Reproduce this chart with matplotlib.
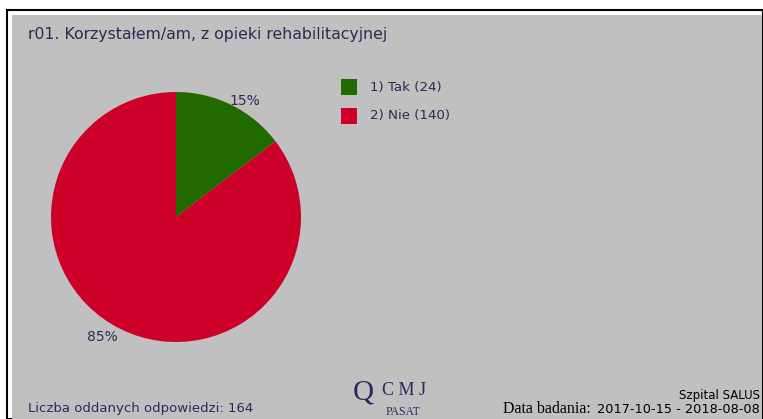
import matplotlib
matplotlib.use("Agg")
import matplotlib.pyplot as plt
from matplotlib.patches import Rectangle

W, H = 763, 419

title = "r01. Korzystałem/am, z opieki rehabilitacyjnej"
labels = ["1) Tak (24)", "2) Nie (140)"]
counts = [24, 140]
colors = ["#216a00", "#cc0029"]
total_text = "Liczba oddanych odpowiedzi: 164"
hospital = "Szpital SALUS"
date_range = "2017-10-15 - 2018-08-08"

txt_col = "#2b2b55"
logo_col = "#2a2a5e"
bg = "#c0c0c0"


def px(x, y):
    return x / W, 1 - y / H


fig = plt.figure(figsize=(W / 100, H / 100), dpi=100)
fig.patch.set_facecolor("white")

# ramka i szare tło (pod osiami)
fig.patches.append(Rectangle(px(7, H), (W - 7) / W, (H - 10) / H,
                             transform=fig.transFigure, facecolor="none",
                             edgecolor="black", linewidth=1.5, zorder=-2))
fig.patches.append(Rectangle(px(12, H), (762 - 12) / W, (H - 15) / H,
                             transform=fig.transFigure, facecolor=bg,
                             edgecolor="none", zorder=-1))

fig.text(*px(28, 34), title, fontsize=11.3, color=txt_col, va="center")

# wykres kołowy
ax = fig.add_axes([51 / W, 1 - 342 / H, 250 / W, 250 / H])
ax.set_facecolor(bg)
wedges, texts, autotexts = ax.pie(counts, colors=colors, startangle=90,
                                  counterclock=False, autopct="%.0f%%",
                                  textprops=dict(color=txt_col, fontsize=10),
                                  wedgeprops=dict(linewidth=0))
autotexts[0].set_position((0.55, 0.93))
autotexts[1].set_position((-0.59, -0.96))
ax.set_xlim(-1, 1)
ax.set_ylim(-1, 1)
ax.set_aspect("equal")
ax.axis("off")

# legenda
for i, (lab, c) in enumerate(zip(labels, colors)):
    y = 87 + i * 29
    fig.patches.append(Rectangle(px(341, y + 8), 16 / W, 16 / H,
                                 transform=fig.transFigure, facecolor=c,
                                 edgecolor="none"))
    fig.text(*px(370, y), lab, fontsize=9.6, color=txt_col, va="center")

# stopka
fig.text(*px(28, 408), total_text, fontsize=9.5, color=txt_col, va="center")
fig.text(*px(760, 395), hospital, fontsize=8.5, color="black", va="center", ha="right")
fig.text(*px(760, 409), date_range, fontsize=9.3, color="black", va="center", ha="right")
fig.text(*px(591, 409), "Data badania:", fontsize=11.5, color="black", va="center",
         ha="right", family="Liberation Serif")

# logo
fig.text(*px(363, 392), "Q", fontsize=21, color=logo_col, va="center", ha="center",
         family="Liberation Serif")
fig.text(*px(404, 390), "C M J", fontsize=13, color=logo_col, va="center",
         ha="center", family="Liberation Serif")
fig.text(*px(403, 412), "PASAT", fontsize=8.5, color=logo_col, va="center",
         ha="center", family="Liberation Serif")

fig.savefig("out.png", dpi=100, facecolor="white")
